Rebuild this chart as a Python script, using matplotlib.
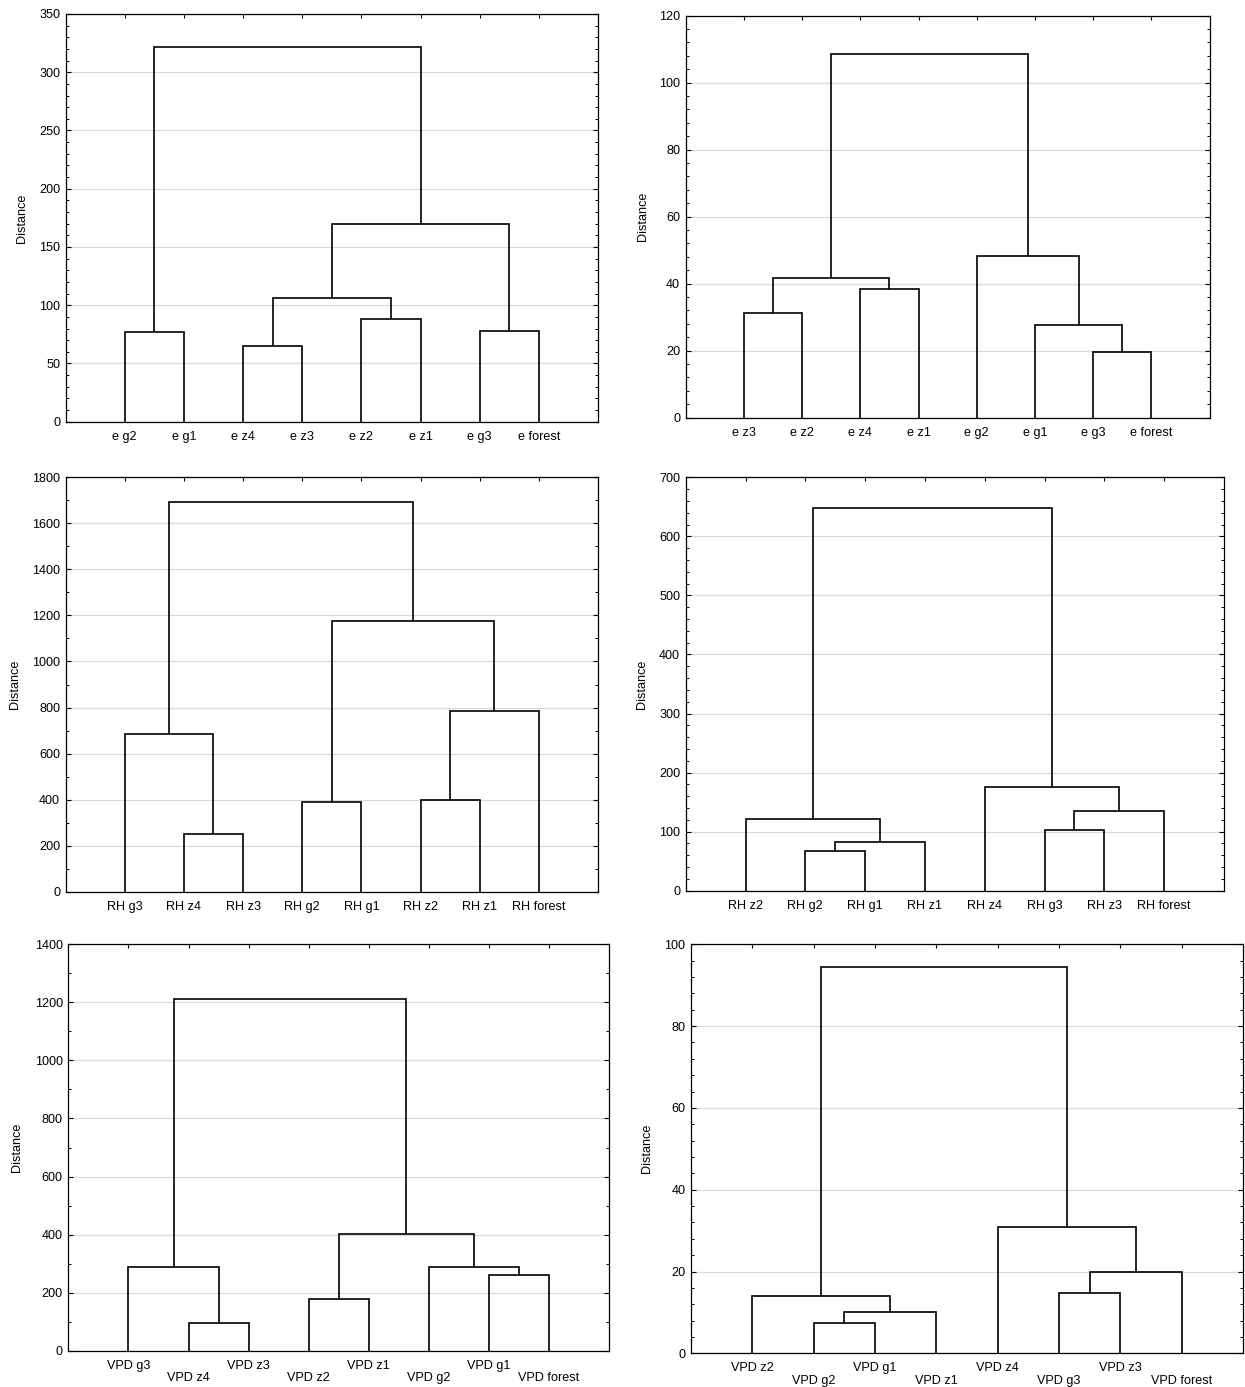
import matplotlib
matplotlib.use("Agg")
import matplotlib.pyplot as plt
from matplotlib.ticker import MultipleLocator, AutoMinorLocator

plt.rcParams['font.family'] = ['Liberation Sans', 'DejaVu Sans']

# ---------------- data ----------------
# leaves in display order; merges index leaves 0..7, new clusters 8..14
e1_labels = ["e g2", "e g1", "e z4", "e z3", "e z2", "e z1", "e g3", "e forest"]
e1_pairs = [(0, 1), (2, 3), (4, 5), (6, 7), (9, 10), (12, 11), (8, 13)]
e1_heights = [77, 65, 88, 78, 106, 170, 322]

e2_labels = ["e z3", "e z2", "e z4", "e z1", "e g2", "e g1", "e g3", "e forest"]
e2_pairs = [(0, 1), (2, 3), (8, 9), (6, 7), (5, 11), (4, 12), (10, 13)]
e2_heights = [31.2, 38.4, 41.6, 19.5, 27.7, 48.3, 108.5]

rh1_labels = ["RH g3", "RH z4", "RH z3", "RH g2", "RH g1", "RH z2", "RH z1", "RH forest"]
rh1_pairs = [(1, 2), (0, 8), (3, 4), (5, 6), (11, 7), (10, 12), (9, 13)]
rh1_heights = [250, 685, 390, 398, 783, 1174, 1693]

rh2_labels = ["RH z2", "RH g2", "RH g1", "RH z1", "RH z4", "RH g3", "RH z3", "RH forest"]
rh2_pairs = [(1, 2), (8, 3), (0, 9), (5, 6), (11, 7), (4, 12), (10, 13)]
rh2_heights = [68, 82, 122, 103, 135, 175, 648]

vpd1_labels = ["VPD g3", "VPD z4", "VPD z3", "VPD z2", "VPD z1", "VPD g2", "VPD g1", "VPD forest"]
vpd1_pairs = [(1, 2), (0, 8), (3, 4), (6, 7), (5, 11), (10, 12), (9, 13)]
vpd1_heights = [96, 289, 178, 260, 288, 402, 1213]

vpd2_labels = ["VPD z2", "VPD g2", "VPD g1", "VPD z1", "VPD z4", "VPD g3", "VPD z3", "VPD forest"]
vpd2_pairs = [(1, 2), (8, 3), (0, 9), (5, 6), (11, 7), (4, 12), (10, 13)]
vpd2_heights = [7.4, 10.2, 14.1, 14.8, 20.0, 31.0, 94.5]

# ---------------- layout ----------------
W, H = 1245, 1387
fig = plt.figure(figsize=(W / 100, H / 100), dpi=100)

panels = [
    # labels, pairs, heights, ymax, major, minor_n, box(l,t,r,b) px, ylabel x px, stagger
    (e1_labels, e1_pairs, e1_heights, 350, 50, 5, (65.6, 14, 598, 421.7), 22, False),
    (e2_labels, e2_pairs, e2_heights, 120, 20, 5, (685.7, 15.7, 1209.7, 417.7), 643, False),
    (rh1_labels, rh1_pairs, rh1_heights, 1800, 200, 2, (65.6, 477.3, 598, 891.7), 15, False),
    (rh2_labels, rh2_pairs, rh2_heights, 700, 100, 5, (685.7, 477.3, 1224, 890.7), 642, False),
    (vpd1_labels, vpd1_pairs, vpd1_heights, 1400, 200, 2, (68.4, 944.3, 609, 1350.7), 17, True),
    (vpd2_labels, vpd2_pairs, vpd2_heights, 100, 20, 5, (691, 944.3, 1243, 1353.3), 647, True),
]

FS = 9.1

for labels, pairs, heights, ymax, major, minor_n, box, ylx, stagger in panels:
    l, t, r, b = box
    ax = fig.add_axes([l / W, 1 - b / H, (r - l) / W, (b - t) / H])
    n = len(labels)
    xpos = {i: i + 1.0 for i in range(n)}
    ypos = {i: 0.0 for i in range(n)}
    for k, ((a, c), h) in enumerate(zip(pairs, heights)):
        idx = n + k
        xa, xc = xpos[a], xpos[c]
        ya, yc = ypos[a], ypos[c]
        ax.plot([xa, xa, xc, xc], [ya, h, h, yc], color='black', lw=1.2,
                solid_joinstyle='miter', solid_capstyle='butt', zorder=3)
        xpos[idx] = (xa + xc) / 2.0
        ypos[idx] = h

    ax.set_xlim(0, n + 1)
    ax.set_ylim(0, ymax)
    ax.yaxis.set_major_locator(MultipleLocator(major))
    ax.yaxis.set_minor_locator(AutoMinorLocator(minor_n))
    ax.grid(axis='y', which='major', color='#d9d9d9', lw=0.9, zorder=0)
    ax.set_axisbelow(True)

    ticks = list(range(1, n + 1))
    if stagger:
        tl = [lab if i % 2 == 0 else "\n" + lab for i, lab in enumerate(labels)]
    else:
        tl = labels
    ax.set_xticks(ticks)
    ax.set_xticklabels(tl, fontsize=FS, linespacing=1.05)
    ax.tick_params(axis='x', which='both', bottom=False, top=True, direction='in',
                   length=3, width=0.8, pad=6.5, labelbottom=True)
    ax.tick_params(axis='y', which='major', left=True, right=True, direction='in',
                   length=3.5, width=0.8, labelsize=FS, pad=4)
    ax.tick_params(axis='y', which='minor', left=True, right=True, direction='in',
                   length=2, width=0.7)
    for s in ax.spines.values():
        s.set_linewidth(0.9)
        s.set_color('black')

    ax.set_ylabel("Distance", fontsize=FS, va='center')
    ax.yaxis.set_label_coords((ylx - l) / (r - l), 0.5)

fig.savefig("out.png", dpi=100)
